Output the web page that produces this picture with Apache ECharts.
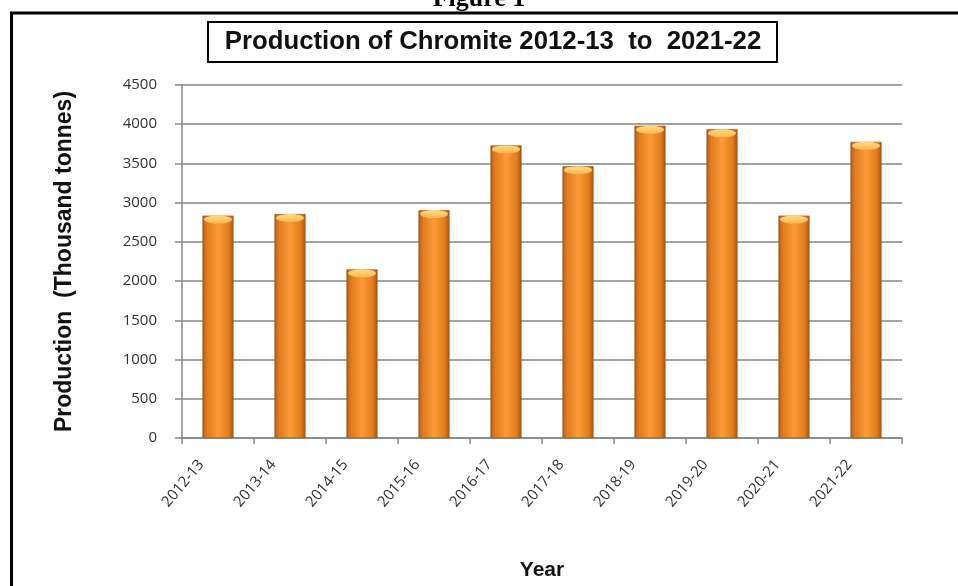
<!DOCTYPE html>
<html>
<head>
<meta charset="utf-8">
<script src="https://cdn.jsdelivr.net/npm/echarts@6/dist/echarts.min.js"></script>
<style>
html,body{margin:0;padding:0;background:#fff;}
#chart{width:958px;height:586px;}
</style>
</head>
<body>
<div id="chart"></div>
<script>
const categories = ['2012-13','2013-14','2014-15','2015-16','2016-17','2017-18','2018-19','2019-20','2020-21','2021-22'];
const production = [2835, 2855, 2150, 2905, 3730, 3465, 3980, 3935, 2835, 3775];
const yTicks = {min: 0, max: 4500, interval: 500};

const chart = echarts.init(document.getElementById('chart'), null, {renderer: 'canvas'});

const barGradient = new echarts.graphic.LinearGradient(0, 0, 1, 0, [
  {offset: 0, color: '#a9561a'},
  {offset: 0.12, color: '#dd781e'},
  {offset: 0.5, color: '#fb9a36'},
  {offset: 0.85, color: '#e27d1d'},
  {offset: 1, color: '#a05216'}
]);
const capGradient = new echarts.graphic.LinearGradient(0, 0, 0, 1, [
  {offset: 0, color: '#ffe08a'},
  {offset: 1, color: '#ffb850'}
]);

chart.setOption({
  animation: false,
  backgroundColor: '#ffffff',
  grid: {left: 182, right: 56, top: 85, bottom: 145.5, containLabel: false},
  graphic: [
    {type: 'line', shape: {x1: 10, y1: 13, x2: 958, y2: 13}, style: {stroke: '#000', lineWidth: 3}},
    {type: 'line', shape: {x1: 11.5, y1: 12, x2: 11.5, y2: 586}, style: {stroke: '#000', lineWidth: 3}},
    {type: 'text', left: 'center', top: -14, style: {text: 'Figure 1', font: 'bold 26px "Liberation Serif"', fill: '#000'}},
    {type: 'rect', shape: {x: 208, y: 22, width: 569, height: 40}, style: {fill: '#fff', stroke: '#000', lineWidth: 2}},
    {type: 'text', x: 493, y: 42, style: {text: 'Production of Chromite 2012-13  to  2021-22', font: 'bold 26px "Liberation Sans"', fill: '#111', align: 'center', verticalAlign: 'middle'}, scaleX: 0.99, scaleY: 1.0}
  ],
  xAxis: {
    type: 'category',
    data: categories,
    name: 'Year',
    nameLocation: 'middle',
    nameGap: 122,
    nameTextStyle: {fontFamily: 'Liberation Sans', fontWeight: 'bold', fontSize: 21, color: '#111'},
    axisLine: {show: true, lineStyle: {color: '#888', width: 1.5}},
    axisTick: {show: true, alignWithLabel: false, length: 6, lineStyle: {color: '#888', width: 1.5}},
    axisLabel: {rotate: 50, fontFamily: 'Open Sans', fontSize: 15, color: '#333', margin: 4, padding: [0, 26, 0, 0]},
    splitLine: {show: false}
  },
  yAxis: {
    type: 'value',
    min: yTicks.min, max: yTicks.max, interval: yTicks.interval,
    name: 'Production  (Thousand tonnes)',
    nameLocation: 'middle',
    nameGap: 106,
    nameTextStyle: {fontFamily: 'Liberation Sans', fontWeight: 'bold', fontSize: 23, color: '#111'},
    axisLine: {show: true, lineStyle: {color: '#888', width: 1.5}},
    axisTick: {show: true, length: 7, lineStyle: {color: '#888', width: 1.5}},
    axisLabel: {fontFamily: 'Open Sans', fontSize: 15, color: '#333', margin: 25, formatter: v => String(v)},
    splitLine: {show: true, lineStyle: {color: '#858585', width: 1.5}}
  },
  series: [
    {
      type: 'bar',
      data: production,
      barWidth: 31,
      itemStyle: {color: barGradient, borderColor: '#9a5016', borderWidth: 0.6},
      z: 2
    },
    {
      type: 'scatter',
      data: production,
      symbol: 'circle',
      symbolSize: [28, 8],
      symbolOffset: [0, 4],
      itemStyle: {color: capGradient, opacity: 0.95},
      silent: true,
      z: 3
    }
  ]
});
</script>
</body>
</html>
